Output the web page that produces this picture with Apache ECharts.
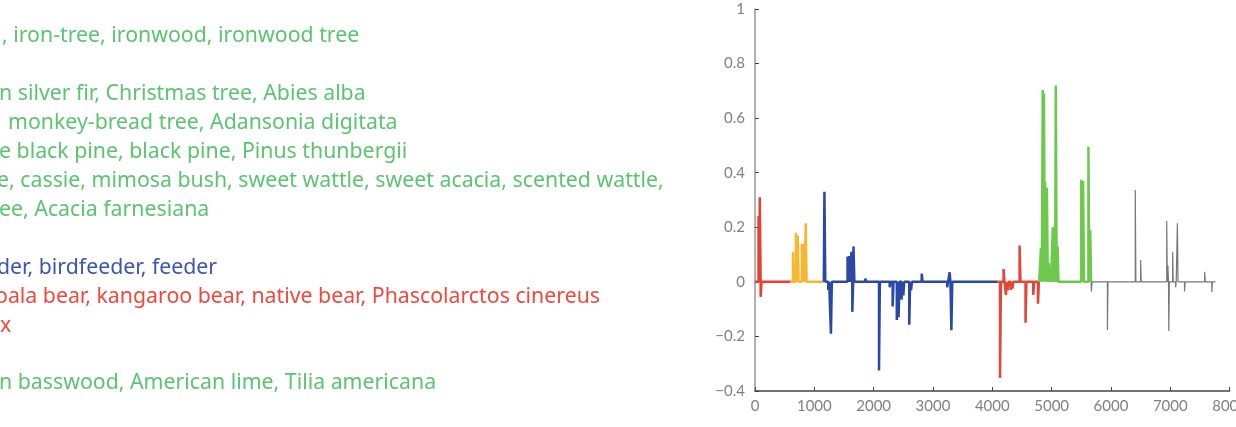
<!DOCTYPE html>
<html>
<head>
<meta charset="utf-8">
<script src="https://cdn.jsdelivr.net/npm/echarts@6/dist/echarts.min.js"></script>
<style>
  html, body { margin: 0; padding: 0; background: #fff; overflow: hidden; }
  #chart { width: 1250px; height: 427px; }
</style>
</head>
<body>
<div id="chart"></div>
<script>
// textes de gauche (coupés au bord)
const labelTexts = [
  ', iron-tree, ironwood, ironwood tree',
  'n silver fir, Christmas tree, Abies alba',
  'monkey-bread tree, Adansonia digitata',
  'e black pine, black pine, Pinus thunbergii',
  'e, cassie, mimosa bush, sweet wattle, sweet acacia, scented wattle,',
  'ee, Acacia farnesiana',
  'der, birdfeeder, feeder',
  'oala bear, kangaroo bear, native bear, Phascolarctos cinereus',
  'x',
  'n basswood, American lime, Tilia americana'
];
const labelColors = ['#5cc470', '#5cc470', '#5cc470', '#5cc470', '#5cc470', '#5cc470',
  '#3d55b0', '#f0493c', '#f0493c', '#5cc470'];
const labelX = [2, -1, 8, -1, -3, -1, -3, -5, 0, -1];
const labelY = [35, 93, 122, 151, 180, 209, 267, 296, 325, 382];

// axes
const xTicks = [0, 1000, 2000, 3000, 4000, 5000, 6000, 7000, 8000];
const yTicks = [-0.4, -0.2, 0, 0.2, 0.4, 0.6, 0.8, 1];

// segments : [début, fin], positions des pics et hauteurs
const redA = { range: [0, 600], x: [60, 80, 95], y: [0.24, 0.31, -0.055] };
const yellow = { range: [600, 1160], x: [640, 690, 720, 790, 820, 855], y: [0.11, 0.18, 0.17, 0.14, 0.14, 0.215] };
const blue = {
  range: [1160, 4090],
  x: [1170, 1235, 1280, 1560, 1590, 1625, 1640, 1660, 1860, 2050, 2090, 2270, 2320, 2390, 2420, 2470, 2500, 2550, 2600, 2630, 2810, 3240, 3280, 3310],
  y: [0.33, -0.03, -0.19, 0.093, 0.095, 0.11, -0.11, 0.13, 0.012, 0.006, -0.325, -0.02, -0.09, -0.14, -0.13, -0.065, -0.05, 0.006, -0.157, -0.03, 0.03, -0.02, 0.035, -0.177]
};
const redB = {
  range: [4090, 4790],
  x: [4130, 4190, 4230, 4260, 4310, 4340, 4460, 4560, 4690, 4770],
  y: [-0.352, 0.047, -0.048, -0.03, -0.03, -0.025, 0.133, -0.15, -0.048, -0.08]
};
const green = {
  range: [4790, 5665],
  x: [4820, 4850, 4870, 4890, 4920, 4950, 4975, 5020, 5045, 5070, 5100, 5500, 5530, 5620, 5650],
  y: [0.125, 0.703, 0.69, 0.367, 0.345, 0.07, 0.04, 0.2, 0.19, 0.72, 0.13, 0.374, 0.37, 0.495, 0.19]
};
const gray = {
  range: [5665, 7760],
  x: [5670, 5940, 6410, 6500, 6940, 6960, 6975, 7040, 7090, 7120, 7240, 7580, 7700],
  y: [-0.035, -0.176, 0.337, 0.08, 0.223, 0.06, -0.18, 0.11, -0.02, 0.215, -0.035, 0.037, -0.037]
};

// construit une ligne : base à 0 + pics fins
function buildLine(seg, w) {
  const pts = [[seg.range[0], 0]];
  seg.x.forEach((x, i) => {
    pts.push([x, 0], [x, seg.y[i]], [x + w, seg.y[i]], [x + w, 0]);
  });
  pts.push([seg.range[1], 0]);
  return pts;
}

function lineSeries(seg, color, width, w) {
  return {
    type: 'line',
    data: buildLine(seg, w),
    showSymbol: false,
    symbol: 'none',
    silent: true,
    animation: false,
    lineStyle: { color: color, width: width, join: 'bevel' }
  };
}

const chart = echarts.init(document.getElementById('chart'));

const fontSize = 21.3;
const graphics = labelTexts.map((t, i) => ({
  type: 'text',
  left: labelX[i],
  top: labelY[i] - 10,
  style: {
    text: t,
    fill: labelColors[i],
    font: fontSize + 'px "Noto Sans"'
  }
}));

chart.setOption({
  animation: false,
  graphic: graphics,
  grid: { left: 755, top: 9, bottom: 36, right: 9, containLabel: false },
  xAxis: {
    type: 'value',
    min: xTicks[0],
    max: xTicks[xTicks.length - 1],
    interval: 1000,
    splitLine: { show: false },
    axisLine: { onZero: false, lineStyle: { color: '#444', width: 1.5 } },
    axisTick: { inside: true, length: 4, lineStyle: { color: '#444' } },
    axisLabel: { color: '#808080', fontSize: 15, fontFamily: 'Lato', margin: 8, formatter: v => String(v) }
  },
  yAxis: {
    type: 'value',
    min: yTicks[0],
    max: yTicks[yTicks.length - 1],
    interval: 0.2,
    splitLine: { show: false },
    axisLine: { show: true, lineStyle: { color: '#999', width: 1.5 } },
    axisTick: { show: true, inside: true, length: 4, lineStyle: { color: '#444' } },
    axisLabel: {
      color: '#808080', fontSize: 15, fontFamily: 'Lato', margin: 10,
      formatter: v => String(Math.round(v * 10) / 10).replace('-', '\u2212')
    }
  },
  series: [
    lineSeries(redA, '#e8402f', 2.5, 15),
    lineSeries(yellow, '#f6b733', 2.5, 15),
    lineSeries(blue, '#2b48a6', 2.5, 15),
    lineSeries(redB, '#e0463a', 2.5, 15),
    lineSeries(green, '#6dc94c', 2.5, 15),
    lineSeries(gray, '#777777', 1.2, 10)
  ]
});
</script>
</body>
</html>
